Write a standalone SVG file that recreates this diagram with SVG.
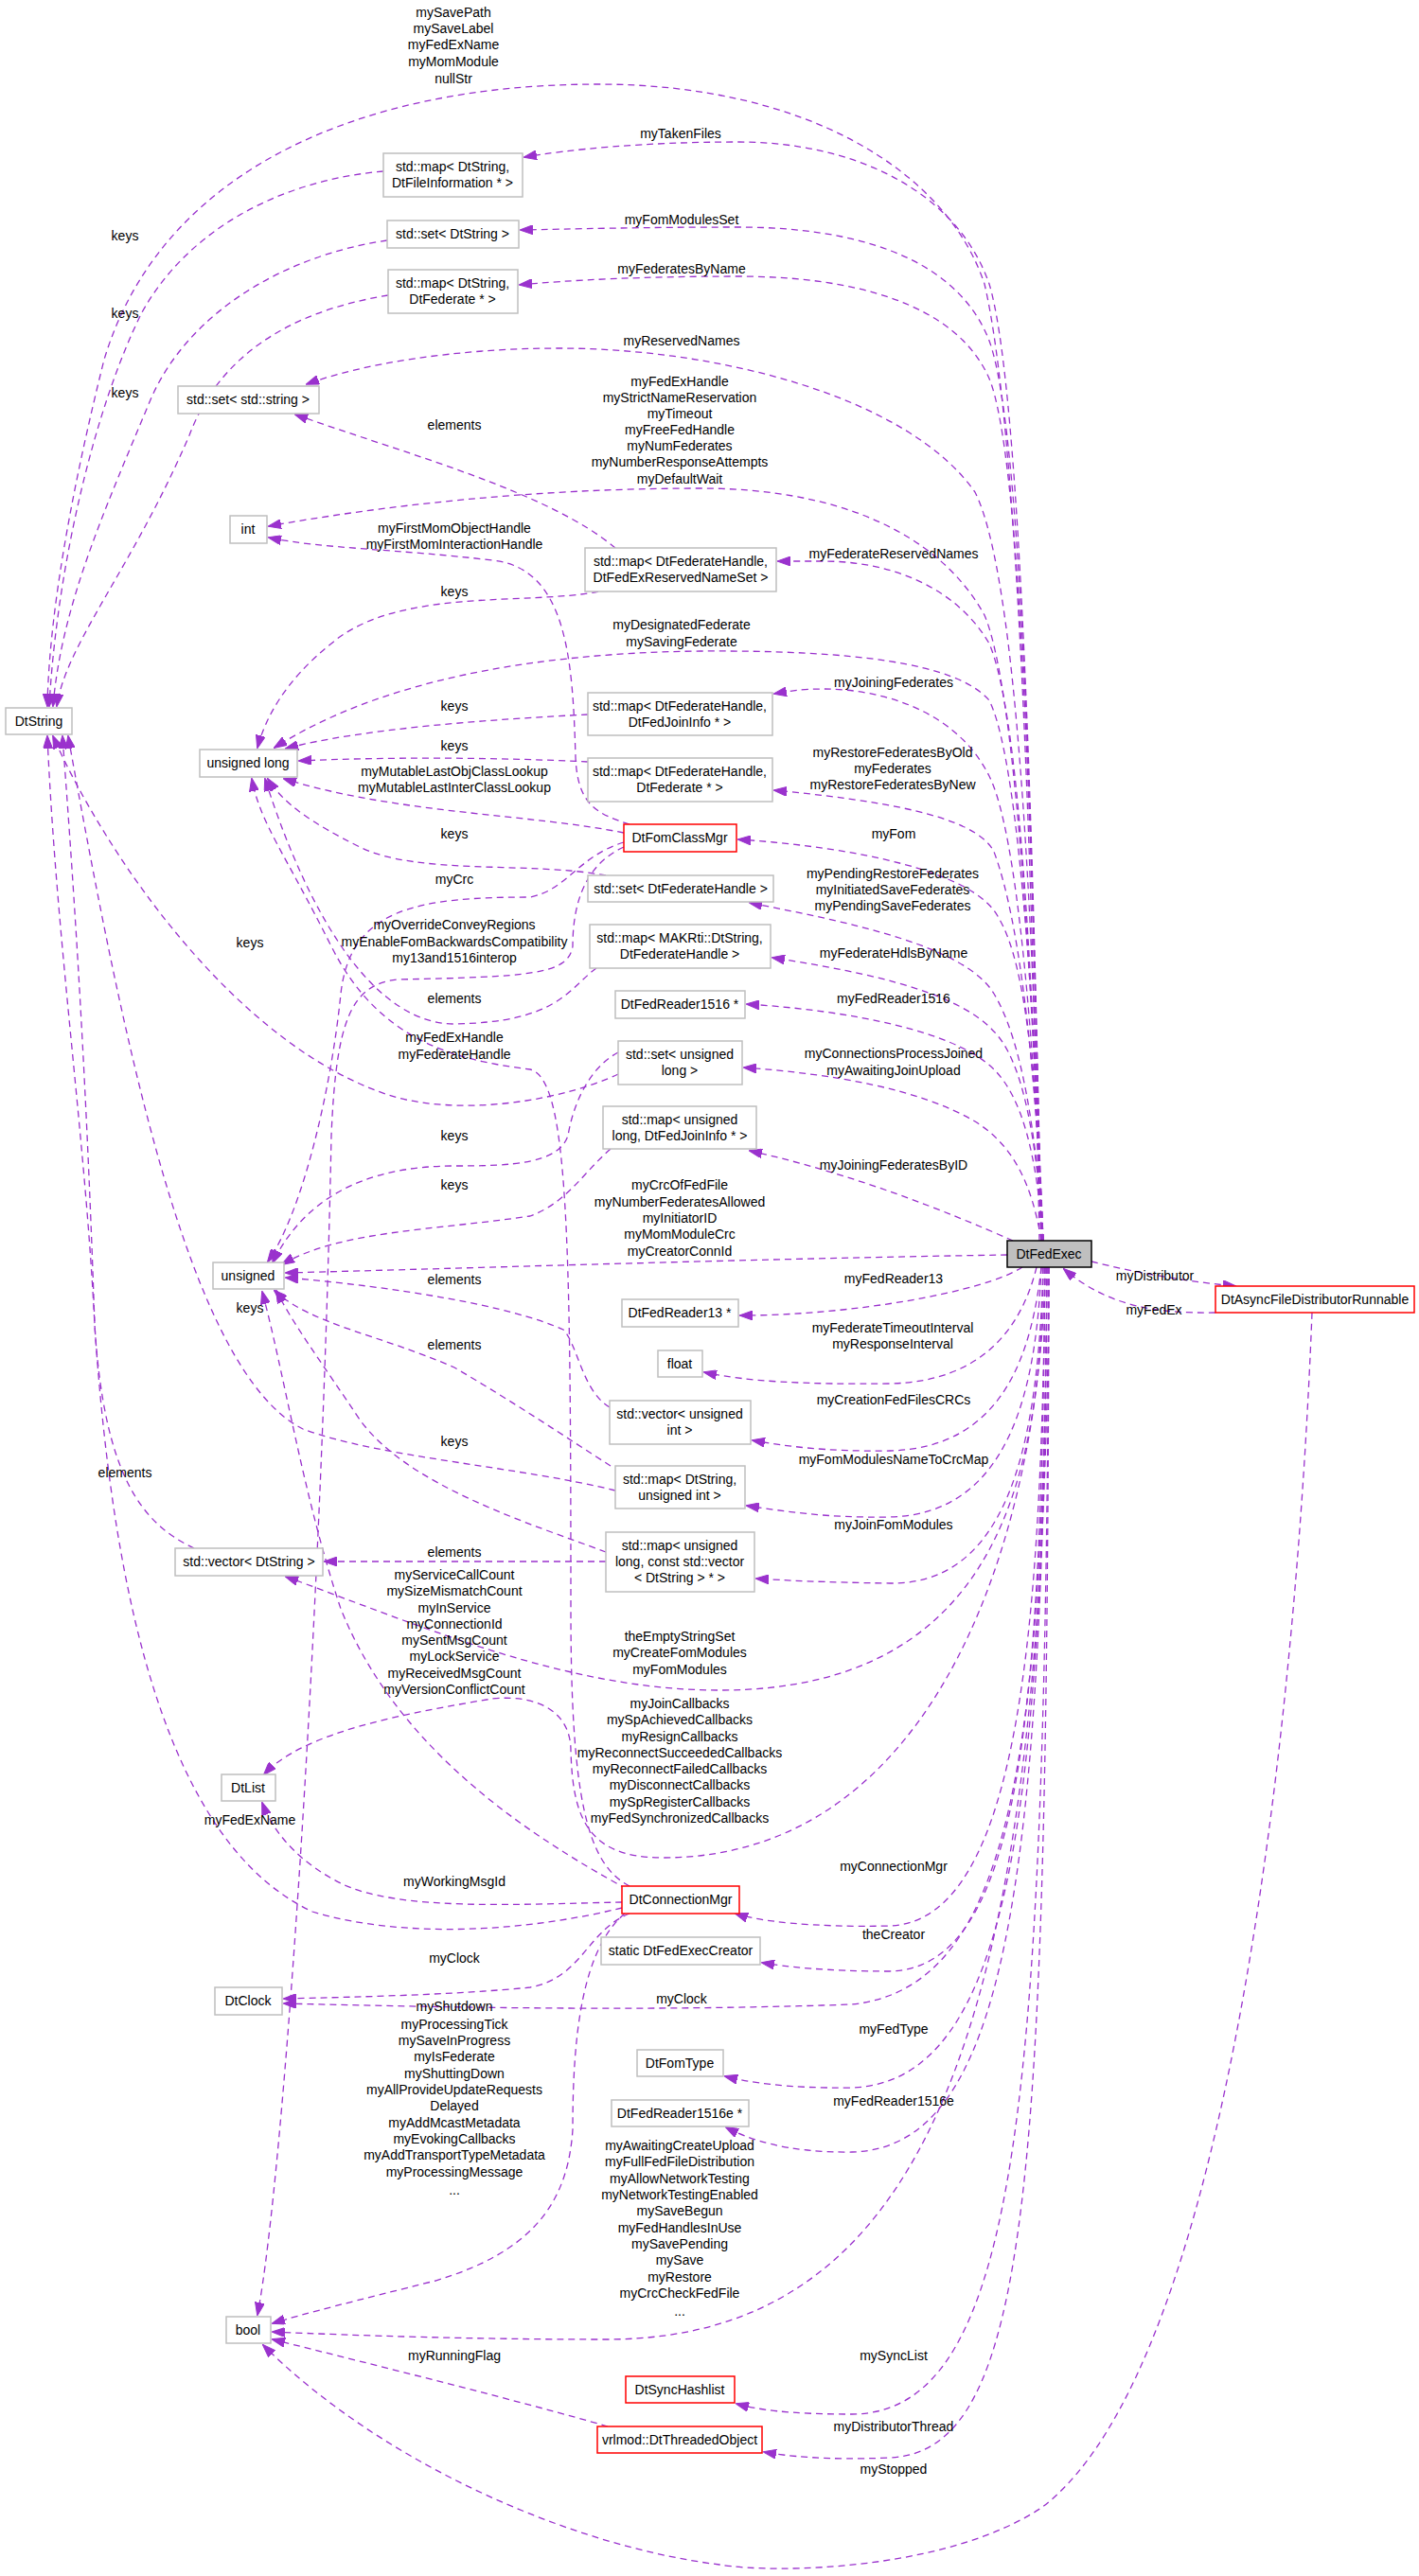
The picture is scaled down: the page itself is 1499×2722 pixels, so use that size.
<svg xmlns="http://www.w3.org/2000/svg" width="1499" height="2722" viewBox="0 0 1499 2722">
<style>
rect.n{fill:#fff;stroke:#bfbfbf;stroke-width:1.5}
rect.r{fill:#fff;stroke:#ff0000;stroke-width:1.5}
rect.m{fill:#bfbfbf;stroke:#000;stroke-width:1.5}
text{font-family:"Liberation Sans",Arial,sans-serif;font-size:14px;fill:#000}
.t{text-anchor:middle}
#edges path{fill:none;stroke:#9a32cd;stroke-width:1.3;stroke-dasharray:7,5;marker-end:url(#a)}
</style>
<defs>
<marker id="a" markerWidth="14" markerHeight="10" refX="13" refY="5" orient="auto" markerUnits="userSpaceOnUse">
<path d="M0,0 L14,5 L0,10 z" fill="#9a32cd" stroke="#9a32cd"/>
</marker>
</defs>
<g id="edges">
<path d="M1098,1311 C1090,900 1075,450 1040,300 C1000,180 850,89 632,89 C380,89 170,180 110,380 C80,500 52,640 50,746"/>
<path d="M1100,1311 C1090,800 1075,400 1045,300 C1010,200 900,150 780,150 C680,150 600,158 554,166"/>
<path d="M1100,1311 C1090,850 1078,450 1045,360 C1010,270 900,240 780,240 C680,240 600,242 550,243"/>
<path d="M1100,1311 C1090,870 1078,480 1045,400 C1010,320 900,292 780,292 C680,292 600,296 549,301"/>
<path d="M1100,1311 C1090,900 1070,600 1030,520 C960,420 760,368 590,368 C480,368 380,385 324,406"/>
<path d="M1100,1311 C1090,1000 1070,720 1040,650 C990,560 880,516 740,516 C560,516 400,535 284,556"/>
<path d="M1100,1311 C1090,1000 1075,750 1045,680 C1010,620 940,593 870,593 C850,593 835,593 822,593"/>
<path d="M1102,1311 C1092,1050 1075,800 1045,740 C1010,700 900,687 740,688 C560,690 400,720 290,790"/>
<path d="M1102,1311 C1092,1100 1075,880 1045,820 C1010,750 930,728 870,728 C845,728 830,731 818,733"/>
<path d="M1102,1311 C1095,1150 1080,980 1050,900 C1030,860 920,845 818,835"/>
<path d="M1102,1311 C1095,1150 1085,1020 1055,970 C1030,920 900,895 780,887"/>
<path d="M1102,1311 C1095,1200 1080,1100 1050,1050 C1020,1000 900,975 792,954"/>
<path d="M1102,1311 C1095,1200 1080,1120 1050,1090 C1010,1045 900,1025 816,1012"/>
<path d="M1102,1311 C1095,1220 1080,1160 1050,1130 C1010,1090 900,1068 789,1061"/>
<path d="M1100,1311 C1090,1250 1070,1210 1030,1185 C970,1150 880,1135 786,1128"/>
<path d="M1070,1311 C1000,1280 900,1240 792,1216"/>
<path d="M1064,1326 C800,1330 500,1340 302,1345"/>
<path d="M1080,1339 C1040,1365 900,1390 782,1390"/>
<path d="M1095,1339 C1080,1400 1040,1460 940,1462 C850,1463 790,1460 744,1450"/>
<path d="M1100,1339 C1090,1430 1060,1530 940,1533 C870,1534 830,1528 795,1522"/>
<path d="M1100,1339 C1095,1460 1070,1600 940,1603 C870,1604 830,1597 789,1591"/>
<path d="M1102,1339 C1097,1500 1075,1675 940,1673 C870,1672 830,1670 799,1668"/>
<path d="M1102,1339 C1100,1550 1060,1786 760,1786 C600,1786 450,1720 302,1666"/>
<path d="M1104,1339 C1100,1600 1000,1963 700,1963 C620,1963 605,1920 603,1850 C603,1810 570,1790 520,1795 C430,1810 320,1830 279,1875"/>
<path d="M1104,1339 C1100,1700 1080,2030 940,2035 C860,2037 800,2030 777,2022"/>
<path d="M1104,1339 C1100,1800 1080,2080 940,2083 C870,2083 830,2078 805,2074"/>
<path d="M1106,1339 C1102,1850 1070,2100 900,2118 C700,2125 500,2122 300,2117"/>
<path d="M1106,1339 C1102,1900 1070,2200 900,2206 C830,2207 790,2200 766,2194"/>
<path d="M1106,1339 C1102,2000 1060,2270 900,2274 C830,2275 790,2260 767,2248"/>
<path d="M1108,1339 C1104,2100 1000,2472 640,2472 C500,2472 380,2468 288,2464"/>
<path d="M1108,1339 C1104,2200 1080,2550 900,2551 C830,2551 800,2546 778,2540"/>
<path d="M1108,1339 C1106,2300 1090,2590 940,2597 C870,2600 830,2595 807,2591"/>
<path d="M1153,1333 C1200,1345 1260,1355 1305,1359"/>
<path d="M1284,1387 C1220,1388 1170,1380 1124,1341"/>
<path d="M1386,1387 C1370,1800 1300,2500 1100,2650 C1000,2716 820,2720 760,2710 C600,2690 400,2600 278,2478"/>
<path d="M405,181 C300,190 200,240 150,330 C100,430 60,600 52,746"/>
<path d="M409,254 C300,270 200,330 160,420 C110,540 65,640 56,746"/>
<path d="M410,312 C300,330 230,380 200,460 C140,600 70,680 60,746"/>
<path d="M650,579 C580,520 430,480 312,438"/>
<path d="M632,625 C560,640 420,620 350,680 C300,720 280,760 272,790"/>
<path d="M665,871 C630,860 610,850 608,800 C605,700 600,600 520,592 C420,580 340,580 284,568"/>
<path d="M621,755 C520,760 380,770 302,791"/>
<path d="M621,805 C520,800 400,800 316,804"/>
<path d="M659,880 C560,860 420,860 300,823"/>
<path d="M640,925 C560,910 440,925 380,895 C330,870 300,850 283,823"/>
<path d="M659,890 C610,905 600,940 560,948 C440,948 370,960 360,1050 C350,1150 320,1280 283,1333"/>
<path d="M659,895 C615,915 605,960 605,1000 C600,1030 560,1032 420,1035 C370,1040 355,1080 350,1200 C340,1700 300,2300 272,2446"/>
<path d="M630,1023 C600,1045 590,1080 480,1082 C400,1082 330,980 280,823"/>
<path d="M653,1135 C600,1160 500,1180 420,1160 C250,1110 110,900 56,778"/>
<path d="M665,1993 C620,1970 603,1900 603,1700 C603,1300 600,1140 560,1130 C480,1120 400,1100 350,1000 C300,900 275,870 266,823"/>
<path d="M653,1112 C620,1130 605,1170 600,1200 C590,1230 540,1232 480,1232 C380,1232 320,1270 288,1334"/>
<path d="M645,1214 C615,1240 600,1270 560,1285 C460,1300 360,1300 298,1336"/>
<path d="M644,1487 C615,1470 610,1420 595,1405 C540,1380 420,1360 302,1350"/>
<path d="M645,1549 C600,1520 540,1480 480,1445 C400,1410 330,1400 290,1364"/>
<path d="M650,1575 C550,1550 400,1540 320,1510 C200,1450 130,1100 72,778"/>
<path d="M640,1640 C560,1610 430,1570 380,1500 C340,1440 310,1400 292,1364"/>
<path d="M640,1650 L343,1650"/>
<path d="M205,1636 C150,1610 110,1560 100,1400 C90,1200 60,1000 50,778"/>
<path d="M662,1996 C560,1940 420,1850 360,1700 C320,1580 300,1450 277,1365"/>
<path d="M657,2010 C550,2012 420,2020 360,1990 C320,1970 290,1940 277,1905"/>
<path d="M657,2016 C560,2040 430,2050 330,2020 C180,1950 120,1700 100,1400 C90,1100 75,900 66,778"/>
<path d="M665,2022 C620,2040 615,2090 560,2100 C480,2108 380,2110 300,2112"/>
<path d="M660,2022 C615,2060 605,2150 605,2250 C600,2330 560,2380 460,2410 C380,2430 320,2445 288,2455"/>
<path d="M642,2564 C560,2540 400,2500 288,2472"/>
</g>
<g id="labels" class="t">
<text x="479" y="18">mySavePath</text><text x="479" y="35">mySaveLabel</text><text x="479" y="52">myFedExName</text><text x="479" y="70">myMomModule</text><text x="479" y="88">nullStr</text>
<text x="719" y="146">myTakenFiles</text>
<text x="720" y="237">myFomModulesSet</text>
<text x="720" y="289">myFederatesByName</text>
<text x="720" y="365">myReservedNames</text>
<text x="718" y="408">myFedExHandle</text><text x="718" y="425">myStrictNameReservation</text><text x="718" y="442">myTimeout</text><text x="718" y="459">myFreeFedHandle</text><text x="718" y="476">myNumFederates</text><text x="718" y="493">myNumberResponseAttempts</text><text x="718" y="511">myDefaultWait</text>
<text x="944" y="590">myFederateReservedNames</text>
<text x="720" y="665">myDesignatedFederate</text><text x="720" y="683">mySavingFederate</text>
<text x="944" y="726">myJoiningFederates</text>
<text x="943" y="800">myRestoreFederatesByOld</text><text x="943" y="817">myFederates</text><text x="943" y="834">myRestoreFederatesByNew</text>
<text x="944" y="886">myFom</text>
<text x="943" y="928">myPendingRestoreFederates</text><text x="943" y="945">myInitiatedSaveFederates</text><text x="943" y="962">myPendingSaveFederates</text>
<text x="944" y="1012">myFederateHdlsByName</text>
<text x="944" y="1060">myFedReader1516</text>
<text x="944" y="1118">myConnectionsProcessJoined</text><text x="944" y="1136">myAwaitingJoinUpload</text>
<text x="944" y="1236">myJoiningFederatesByID</text>
<text x="718" y="1257">myCrcOfFedFile</text><text x="718" y="1275">myNumberFederatesAllowed</text><text x="718" y="1292">myInitiatorID</text><text x="718" y="1309">myMomModuleCrc</text><text x="718" y="1327">myCreatorConnId</text>
<text x="944" y="1356">myFedReader13</text>
<text x="943" y="1408">myFederateTimeoutInterval</text><text x="943" y="1425">myResponseInterval</text>
<text x="944" y="1484">myCreationFedFilesCRCs</text>
<text x="944" y="1547">myFomModulesNameToCrcMap</text>
<text x="944" y="1616">myJoinFomModules</text>
<text x="718" y="1734">theEmptyStringSet</text><text x="718" y="1751">myCreateFomModules</text><text x="718" y="1769">myFomModules</text>
<text x="718" y="1805">myJoinCallbacks</text><text x="718" y="1822">mySpAchievedCallbacks</text><text x="718" y="1840">myResignCallbacks</text><text x="718" y="1857">myReconnectSucceededCallbacks</text><text x="718" y="1874">myReconnectFailedCallbacks</text><text x="718" y="1891">myDisconnectCallbacks</text><text x="718" y="1909">mySpRegisterCallbacks</text><text x="718" y="1926">myFedSynchronizedCallbacks</text>
<text x="944" y="1977">myConnectionMgr</text>
<text x="944" y="2049">theCreator</text>
<text x="720" y="2117">myClock</text>
<text x="944" y="2149">myFedType</text>
<text x="944" y="2225">myFedReader1516e</text>
<text x="718" y="2272">myAwaitingCreateUpload</text><text x="718" y="2289">myFullFedFileDistribution</text><text x="718" y="2307">myAllowNetworkTesting</text><text x="718" y="2324">myNetworkTestingEnabled</text><text x="718" y="2341">mySaveBegun</text><text x="718" y="2359">myFedHandlesInUse</text><text x="718" y="2376">mySavePending</text><text x="718" y="2393">mySave</text><text x="718" y="2411">myRestore</text><text x="718" y="2428">myCrcCheckFedFile</text><text x="718" y="2447">...</text>
<text x="944" y="2494">mySyncList</text>
<text x="944" y="2569">myDistributorThread</text>
<text x="944" y="2614">myStopped</text>
<text x="1220" y="1353">myDistributor</text>
<text x="1219" y="1389">myFedEx</text>
<text x="132" y="254">keys</text><text x="132" y="336">keys</text><text x="132" y="420">keys</text>
<text x="480" y="454">elements</text>
<text x="480" y="563">myFirstMomObjectHandle</text><text x="480" y="580">myFirstMomInteractionHandle</text>
<text x="480" y="630">keys</text>
<text x="480" y="751">keys</text>
<text x="480" y="793">keys</text>
<text x="480" y="820">myMutableLastObjClassLookup</text><text x="480" y="837">myMutableLastInterClassLookup</text>
<text x="480" y="886">keys</text>
<text x="480" y="934">myCrc</text>
<text x="480" y="982">myOverrideConveyRegions</text><text x="480" y="1000">myEnableFomBackwardsCompatibility</text><text x="480" y="1017">my13and1516interop</text>
<text x="264" y="1001">keys</text>
<text x="480" y="1060">elements</text>
<text x="480" y="1101">myFedExHandle</text><text x="480" y="1119">myFederateHandle</text>
<text x="480" y="1205">keys</text>
<text x="480" y="1257">keys</text>
<text x="480" y="1357">elements</text>
<text x="264" y="1387">keys</text>
<text x="480" y="1426">elements</text>
<text x="480" y="1528">keys</text>
<text x="132" y="1561">elements</text>
<text x="480" y="1645">elements</text>
<text x="480" y="1669">myServiceCallCount</text><text x="480" y="1686">mySizeMismatchCount</text><text x="480" y="1704">myInService</text><text x="480" y="1721">myConnectionId</text><text x="480" y="1738">mySentMsgCount</text><text x="480" y="1755">myLockService</text><text x="480" y="1773">myReceivedMsgCount</text><text x="480" y="1790">myVersionConflictCount</text>
<text x="264" y="1928">myFedExName</text>
<text x="480" y="1993">myWorkingMsgId</text>
<text x="480" y="2074">myClock</text>
<text x="480" y="2125">myShutdown</text><text x="480" y="2144">myProcessingTick</text><text x="480" y="2161">mySaveInProgress</text><text x="480" y="2178">myIsFederate</text><text x="480" y="2196">myShuttingDown</text><text x="480" y="2213">myAllProvideUpdateRequests</text><text x="480" y="2230">Delayed</text><text x="480" y="2248">myAddMcastMetadata</text><text x="480" y="2265">myEvokingCallbacks</text><text x="480" y="2282">myAddTransportTypeMetadata</text><text x="480" y="2300">myProcessingMessage</text><text x="480" y="2319">...</text>
<text x="480" y="2494">myRunningFlag</text>
</g>
<g id="DtFedExec"><rect class="m" x="1064" y="1311" width="89" height="28"/><text class="t" x="1108" y="1330">DtFedExec</text></g>
<g id="DtAsyncFileDistributorRunnable"><rect class="r" x="1284" y="1359" width="210" height="28"/><text class="t" x="1389" y="1378">DtAsyncFileDistributorRunnable</text></g>
<g id="DtString"><rect class="n" x="6" y="748" width="70" height="28"/><text class="t" x="41" y="767">DtString</text></g>
<g id="mapFileInfo"><rect class="n" x="405" y="162" width="147" height="46"/><text class="t" x="478" y="181">std::map&lt; DtString,</text><text class="t" x="478" y="198">DtFileInformation * &gt;</text></g>
<g id="setDtString"><rect class="n" x="409" y="233" width="139" height="29"/><text class="t" x="478" y="252">std::set&lt; DtString &gt;</text></g>
<g id="mapDtFederate"><rect class="n" x="410" y="285" width="137" height="46"/><text class="t" x="478" y="304">std::map&lt; DtString,</text><text class="t" x="478" y="321">DtFederate * &gt;</text></g>
<g id="setStdString"><rect class="n" x="188" y="408" width="149" height="29"/><text class="t" x="262" y="427">std::set&lt; std::string &gt;</text></g>
<g id="int"><rect class="n" x="243" y="545" width="39" height="29"/><text class="t" x="262" y="564">int</text></g>
<g id="mapReservedNameSet"><rect class="n" x="618" y="579" width="202" height="46"/><text class="t" x="719" y="598">std::map&lt; DtFederateHandle,</text><text class="t" x="719" y="615">DtFedExReservedNameSet &gt;</text></g>
<g id="unsignedLong"><rect class="n" x="211" y="792" width="103" height="29"/><text class="t" x="262" y="811">unsigned long</text></g>
<g id="mapFedJoinInfo"><rect class="n" x="621" y="732" width="195" height="45"/><text class="t" x="718" y="751">std::map&lt; DtFederateHandle,</text><text class="t" x="718" y="768">DtFedJoinInfo * &gt;</text></g>
<g id="mapFHFederate"><rect class="n" x="621" y="801" width="195" height="46"/><text class="t" x="718" y="820">std::map&lt; DtFederateHandle,</text><text class="t" x="718" y="837">DtFederate * &gt;</text></g>
<g id="DtFomClassMgr"><rect class="r" x="659" y="871" width="119" height="29"/><text class="t" x="718" y="890">DtFomClassMgr</text></g>
<g id="setFH"><rect class="n" x="621" y="925" width="196" height="28"/><text class="t" x="719" y="944">std::set&lt; DtFederateHandle &gt;</text></g>
<g id="mapMAKRti"><rect class="n" x="623" y="977" width="191" height="46"/><text class="t" x="718" y="996">std::map&lt; MAKRti::DtString,</text><text class="t" x="718" y="1013">DtFederateHandle &gt;</text></g>
<g id="DtFedReader1516"><rect class="n" x="650" y="1047" width="137" height="29"/><text class="t" x="718" y="1066">DtFedReader1516 *</text></g>
<g id="setUnsignedLong"><rect class="n" x="653" y="1100" width="131" height="46"/><text class="t" x="718" y="1119">std::set&lt; unsigned</text><text class="t" x="718" y="1136">long &gt;</text></g>
<g id="mapULJoinInfo"><rect class="n" x="637" y="1169" width="162" height="45"/><text class="t" x="718" y="1188">std::map&lt; unsigned</text><text class="t" x="718" y="1205">long, DtFedJoinInfo * &gt;</text></g>
<g id="unsigned"><rect class="n" x="225" y="1334" width="75" height="28"/><text class="t" x="262" y="1353">unsigned</text></g>
<g id="DtFedReader13"><rect class="n" x="657" y="1373" width="123" height="29"/><text class="t" x="718" y="1392">DtFedReader13 *</text></g>
<g id="float"><rect class="n" x="695" y="1427" width="47" height="28"/><text class="t" x="718" y="1446">float</text></g>
<g id="vectorUInt"><rect class="n" x="644" y="1480" width="149" height="46"/><text class="t" x="718" y="1499">std::vector&lt; unsigned</text><text class="t" x="718" y="1516">int &gt;</text></g>
<g id="mapDtStringUInt"><rect class="n" x="650" y="1549" width="137" height="45"/><text class="t" x="718" y="1568">std::map&lt; DtString,</text><text class="t" x="718" y="1585">unsigned int &gt;</text></g>
<g id="mapULVector"><rect class="n" x="640" y="1619" width="157" height="63"/><text class="t" x="718" y="1638">std::map&lt; unsigned</text><text class="t" x="718" y="1655">long, const std::vector</text><text class="t" x="718" y="1672">&lt; DtString &gt; * &gt;</text></g>
<g id="vectorDtString"><rect class="n" x="185" y="1636" width="156" height="29"/><text class="t" x="263" y="1655">std::vector&lt; DtString &gt;</text></g>
<g id="DtList"><rect class="n" x="234" y="1875" width="57" height="28"/><text class="t" x="262" y="1894">DtList</text></g>
<g id="DtConnectionMgr"><rect class="r" x="657" y="1993" width="124" height="29"/><text class="t" x="719" y="2012">DtConnectionMgr</text></g>
<g id="DtFedExecCreator"><rect class="n" x="635" y="2047" width="168" height="29"/><text class="t" x="719" y="2066">static DtFedExecCreator</text></g>
<g id="DtClock"><rect class="n" x="227" y="2100" width="71" height="29"/><text class="t" x="262" y="2119">DtClock</text></g>
<g id="DtFomType"><rect class="n" x="673" y="2166" width="91" height="28"/><text class="t" x="718" y="2185">DtFomType</text></g>
<g id="DtFedReader1516e"><rect class="n" x="646" y="2219" width="145" height="28"/><text class="t" x="718" y="2238">DtFedReader1516e *</text></g>
<g id="bool"><rect class="n" x="239" y="2448" width="47" height="28"/><text class="t" x="262" y="2467">bool</text></g>
<g id="DtSyncHashlist"><rect class="r" x="661" y="2511" width="115" height="28"/><text class="t" x="718" y="2530">DtSyncHashlist</text></g>
<g id="DtThreadedObject"><rect class="r" x="631" y="2564" width="174" height="28"/><text class="t" x="718" y="2583">vrlmod::DtThreadedObject</text></g>
</svg>
